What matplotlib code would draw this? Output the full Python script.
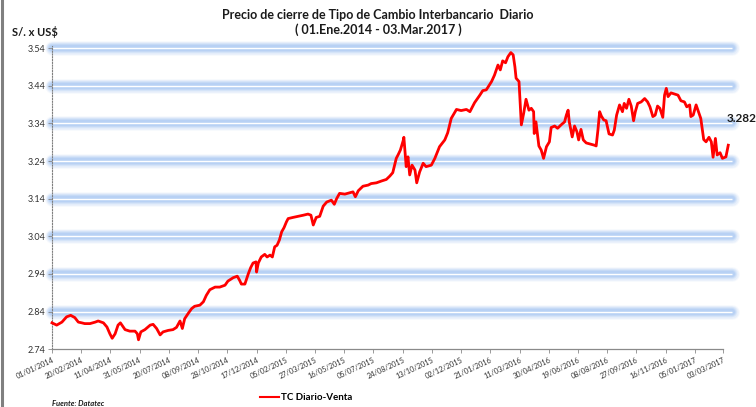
import matplotlib
matplotlib.use("Agg")
import matplotlib.pyplot as plt
import matplotlib.transforms as mtransforms
from matplotlib.lines import Line2D
import pandas as pd

plt.rcParams['font.family'] = ['Lato', 'DejaVu Sans']

# ---- data (days since 01/01/2014, closing rate S/. per US$) ----
days = [0, 8, 17, 25, 32, 39, 45, 51, 56, 65, 74, 79, 88, 94, 99, 103, 108, 113, 117, 125,
        133, 142, 146, 148, 152, 159, 168, 173, 179, 185, 190, 199, 207, 213, 219, 223, 227, 233, 239, 244,
        253, 259, 264, 270, 279, 287, 296, 301, 310, 317, 321, 324, 330, 336, 340, 344, 349, 350, 353, 358,
        364, 368, 373, 377, 381, 385, 389, 393, 397, 401, 404, 412, 421, 430, 438, 443, 447, 452, 458, 464,
        470, 478, 483, 487, 492, 501, 508, 515, 519, 524, 532, 541, 546, 555, 564, 572, 578, 583, 589, 592,
        596, 601, 602, 606, 609, 612, 616, 621, 624, 629, 635, 640, 649, 655, 663, 672, 677, 683, 692, 700,
        709, 715, 723, 732, 737, 743, 752, 757, 763, 767, 771, 776, 780, 785, 789, 792, 794, 799, 803, 807,
        811, 816, 820, 824, 825, 828, 833, 837, 841, 846, 851, 854, 860, 865, 871, 877, 880, 883, 885, 890,
        894, 898, 901, 905, 909, 914, 921, 928, 931, 934, 937, 940, 944, 948, 953, 959, 962, 966, 971, 976,
        979, 983, 987, 991, 995, 998, 1002, 1008, 1014, 1019, 1023, 1028, 1032, 1036, 1040, 1045, 1048, 1051, 1054, 1059,
        1065, 1071, 1076, 1082, 1086, 1091, 1093, 1097, 1102, 1106, 1110, 1115, 1119, 1124, 1128, 1131, 1135, 1138, 1143, 1147,
        1153, 1157]
values = [2.810, 2.804, 2.812, 2.826, 2.830, 2.824, 2.812, 2.810, 2.808, 2.808, 2.812, 2.815, 2.810, 2.799, 2.781, 2.769, 2.781, 2.804, 2.810, 2.792,
          2.788, 2.788, 2.781, 2.765, 2.786, 2.792, 2.804, 2.806, 2.795, 2.778, 2.786, 2.790, 2.792, 2.798, 2.815, 2.795, 2.821, 2.835, 2.848, 2.854,
          2.857, 2.866, 2.883, 2.898, 2.905, 2.905, 2.910, 2.921, 2.930, 2.934, 2.923, 2.913, 2.913, 2.941, 2.957, 2.969, 2.972, 2.945, 2.969, 2.985,
          2.992, 2.985, 2.990, 2.985, 3.012, 3.016, 3.030, 3.052, 3.063, 3.078, 3.087, 3.090, 3.093, 3.096, 3.099, 3.096, 3.070, 3.090, 3.093, 3.120,
          3.131, 3.136, 3.125, 3.140, 3.154, 3.152, 3.155, 3.158, 3.145, 3.161, 3.173, 3.176, 3.180, 3.182, 3.187, 3.191, 3.200, 3.209, 3.247, 3.256,
          3.269, 3.295, 3.303, 3.225, 3.251, 3.203, 3.229, 3.216, 3.182, 3.211, 3.234, 3.225, 3.229, 3.247, 3.278, 3.296, 3.315, 3.353, 3.377, 3.374,
          3.377, 3.371, 3.395, 3.415, 3.427, 3.429, 3.451, 3.468, 3.495, 3.482, 3.506, 3.501, 3.517, 3.528, 3.522, 3.490, 3.460, 3.451, 3.336, 3.367,
          3.404, 3.375, 3.380, 3.371, 3.313, 3.344, 3.280, 3.269, 3.247, 3.278, 3.291, 3.329, 3.333, 3.327, 3.336, 3.344, 3.362, 3.375, 3.344, 3.304,
          3.333, 3.318, 3.296, 3.324, 3.296, 3.288, 3.285, 3.282, 3.280, 3.322, 3.371, 3.359, 3.349, 3.347, 3.312, 3.309, 3.322, 3.362, 3.389, 3.371,
          3.393, 3.380, 3.404, 3.386, 3.347, 3.371, 3.393, 3.397, 3.406, 3.397, 3.384, 3.358, 3.362, 3.386, 3.380, 3.356, 3.415, 3.433, 3.411, 3.421,
          3.418, 3.415, 3.400, 3.397, 3.384, 3.389, 3.358, 3.362, 3.389, 3.371, 3.353, 3.297, 3.291, 3.303, 3.291, 3.250, 3.300, 3.256, 3.262, 3.247,
          3.251, 3.282]

y_ticks = [2.74, 2.84, 2.94, 3.04, 3.14, 3.24, 3.34, 3.44, 3.54]
x_tick_labels = ["01/01/2014", "20/02/2014", "11/04/2014", "31/05/2014", "20/07/2014", "08/09/2014",
                 "28/10/2014", "17/12/2014", "05/02/2015", "27/03/2015", "16/05/2015", "05/07/2015",
                 "24/08/2015", "13/10/2015", "02/12/2015", "21/01/2016", "11/03/2016", "30/04/2016",
                 "19/06/2016", "08/08/2016", "27/09/2016", "16/11/2016", "05/01/2017", "03/03/2017"]
series_name = "TC Diario-Venta"
last_value_label = "3.282"

# ---- layout ----
W, H = 756, 407
fig = plt.figure(figsize=(W / 100, H / 100), dpi=100)
ax_left, ax_right, ax_bottom, ax_top = 52, 723, 349.2, 46.2
ax = fig.add_axes([ax_left / W, 1 - ax_bottom / H, (ax_right - ax_left) / W, (ax_bottom - ax_top) / H])

x_end = 1148
ax.set_xlim(0, x_end)
ax.set_ylim(2.74, 3.545)

start = pd.Timestamp("2014-01-01")
tick_pos = [(pd.to_datetime(s, dayfirst=True) - start).days for s in x_tick_labels]
tick_pos[-1] = x_end

# glowing gridlines
trans = mtransforms.blended_transform_factory(ax.transAxes, ax.transData)
for yv in y_ticks[1:]:
    for lw, a in [(10.5, 0.10), (9, 0.15), (7.5, 0.22), (6, 0.30), (4.5, 0.40)]:
        ax.plot([0, 1.013], [yv, yv], transform=trans, color='#a2c3f2', lw=lw, alpha=a,
                solid_capstyle='round', clip_on=False, zorder=1)
    ax.plot([0, 1.013], [yv, yv], transform=trans, color='white', lw=1.0,
            solid_capstyle='butt', clip_on=False, zorder=2)

ax.plot(days, values, color='#ff0000', lw=2.0, zorder=5, clip_on=False)

# axes styling
for s in ['top', 'right']:
    ax.spines[s].set_visible(False)
ax.spines['left'].set_linestyle((0, (1, 1.5)))
ax.spines['left'].set_color('#7f7f7f')
ax.spines['left'].set_linewidth(0.8)
ax.spines['bottom'].set_color('#8a8a8a')
ax.spines['bottom'].set_linewidth(0.9)

ax.set_yticks(y_ticks)
ax.set_yticklabels([f"{v:.2f}" for v in y_ticks])
ax.tick_params(axis='y', length=3, width=0.6, color='#8a8a8a', labelsize=6.5, pad=2, labelcolor='#333333')
ax.set_xticks(tick_pos)
ax.set_xticklabels(x_tick_labels, rotation=25, ha='right', rotation_mode='anchor')
ax.tick_params(axis='x', length=3, width=0.6, color='#8a8a8a', labelsize=5.3, pad=2, labelcolor='#333333')

# texts
fig.text(378 / W, 1 - 15 / H, "Precio de cierre de Tipo de Cambio Interbancario  Diario",
         ha='center', va='center', fontsize=9, fontweight='bold', color='#1a1a1a')
fig.text(378 / W, 1 - 30 / H, "( 01.Ene.2014 - 03.Mar.2017 )",
         ha='center', va='center', fontsize=9, fontweight='bold', color='#1a1a1a')
fig.text(12 / W, 1 - 32.5 / H, "S/. x US$", ha='left', va='center', fontsize=8,
         fontweight='bold', color='#1a1a1a')
fig.text(727 / W, 1 - 118 / H, last_value_label, ha='left', va='center', fontsize=8.5,
         fontweight='bold', color='#1a1a1a')
fig.text(52 / W, 1 - 403 / H, "Fuente: Datatec", ha='left', va='center', fontsize=5.5,
         fontweight='bold', style='italic', color='#1a1a1a')

fig.legend(handles=[Line2D([], [], color='#ff0000', lw=1.5)], labels=[series_name],
           loc='center', bbox_to_anchor=(306 / W, 1 - 398 / H), frameon=False,
           prop={'size': 7, 'weight': 'bold'}, handlelength=2.0, handletextpad=0.2,
           borderpad=0, borderaxespad=0)

fig.add_artist(Line2D([1.5 / W, 1.5 / W], [0, 1], color='#808080', lw=2.2, transform=fig.transFigure))

fig.savefig("out.png", dpi=100)
